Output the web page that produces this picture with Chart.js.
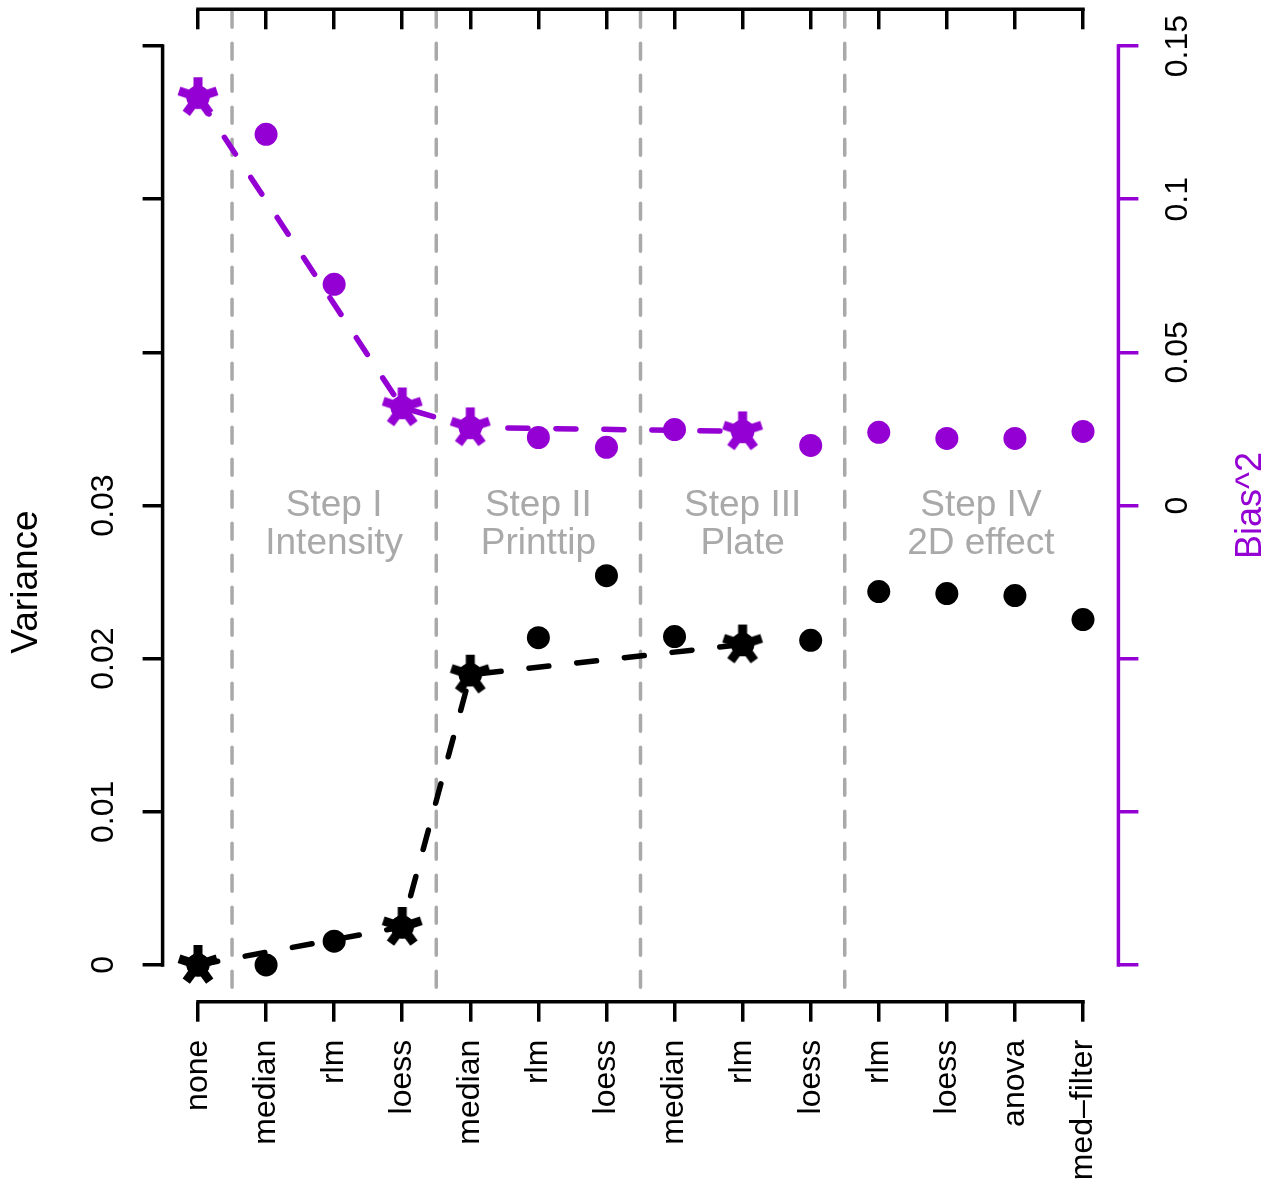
<!DOCTYPE html>
<html lang="en">

<head>
  <meta charset="UTF-8">
  <title>Variance and Bias^2 by normalisation step</title>
  <script src="https://cdn.jsdelivr.net/npm/chart.js"></script>
  <style>
    body {
      margin: 0;
      background: #fff;
    }
  </style>
</head>

<body>
  <canvas id="varBias" width="1279" height="1186"></canvas>

  <script>
    // methods tried at each step, left to right
    const methods = ['none', 'median', 'rlm', 'loess', 'median', 'rlm', 'loess',
      'median', 'rlm', 'loess', 'rlm', 'loess', 'anova', 'med\u2013filter'];

    const variance = [0, 0, 0.00155, 0.00248, 0.01895, 0.02137, 0.02542,
      0.02144, 0.02092, 0.02120, 0.02438, 0.02425, 0.02412, 0.02255];
    const bias2 = [0.1333, 0.1212, 0.0722, 0.0320, 0.0255, 0.0222, 0.0190,
      0.0248, 0.0242, 0.0196, 0.0239, 0.0219, 0.0219, 0.0242];

    // the method chosen at each step (marked with a star, joined by a dashed line)
    const chosen = [0, 3, 4, 8];

    const varTicks = [0, 0.01, 0.02, 0.03, 0.04, 0.05, 0.06];
    const varTickLabels = ['0', '0.01', '0.02', '0.03', '', '', ''];
    const biasTicks = [-0.15, -0.1, -0.05, 0, 0.05, 0.1, 0.15];
    const biasTickLabels = ['', '', '', '0', '0.05', '0.1', '0.15'];

    const stepBreaks = [1.5, 4.5, 7.5, 10.5];
    const stepNames = [['Step I', 'Intensity'], ['Step II', 'Printtip'],
      ['Step III', 'Plate'], ['Step IV', '2D effect']];
    const stepCentres = [3, 6, 9, 12.5];

    const PURPLE = '#9400D3';
    const GREY = '#A9A9A9';
    const FONT = "'Liberation Sans', Arial, sans-serif";

    function starGlyph(color) {
      const c = document.createElement('canvas');
      c.width = 46;
      c.height = 46;
      const g = c.getContext('2d');
      g.fillStyle = color;
      g.strokeStyle = color;
      g.beginPath();
      g.arc(23, 23, 11.5, 0, Math.PI * 2);
      g.fill();
      g.lineWidth = 9;
      for (let k = 0; k < 5; k++) {
        const a = -Math.PI / 2 + k * 2 * Math.PI / 5;
        g.beginPath();
        g.moveTo(23, 23);
        g.lineTo(23 + 20 * Math.cos(a), 23 + 20 * Math.sin(a));
        g.stroke();
      }
      return c;
    }

    const onlyChosen = arr => arr.map((v, i) => chosen.includes(i) ? v : null);
    const xy = arr => arr.map((v, i) => ({ x: i + 1, y: v }));

    const extras = {
      id: 'extras',
      beforeDatasetsDraw(chart) {
        const { ctx, chartArea: a, scales } = chart;
        ctx.save();
        ctx.strokeStyle = GREY;
        ctx.lineWidth = 3.5;
        ctx.lineCap = 'round';
        ctx.setLineDash([16, 16]);
        stepBreaks.forEach(b => {
          const px = scales.x.getPixelForValue(b);
          ctx.beginPath();
          ctx.moveTo(px, a.top + 2);
          ctx.lineTo(px, a.bottom);
          ctx.stroke();
        });
        ctx.setLineDash([]);
        ctx.fillStyle = GREY;
        ctx.font = '37px ' + FONT;
        ctx.textAlign = 'center';
        ctx.textBaseline = 'alphabetic';
        const base = scales.y.getPixelForValue(0.0293);
        stepNames.forEach((lines, i) => {
          const px = scales.x.getPixelForValue(stepCentres[i]);
          lines.forEach((t, j) => ctx.fillText(t, px, base + j * 38));
        });
        ctx.restore();
      },
      afterDraw(chart) {
        const { ctx, chartArea: a, scales } = chart;
        const x = scales.x, y = scales.y, y2 = scales.y2;
        ctx.save();
        ctx.lineWidth = 3.5;
        ctx.lineCap = 'square';
        ctx.strokeStyle = '#000';
        const x0 = x.getPixelForValue(1), x1 = x.getPixelForValue(methods.length);
        [a.top, a.bottom].forEach(py => {
          ctx.beginPath();
          ctx.moveTo(x0, py);
          ctx.lineTo(x1, py);
          ctx.stroke();
        });
        ctx.beginPath();
        ctx.moveTo(a.left, y.getPixelForValue(varTicks[0]));
        ctx.lineTo(a.left, y.getPixelForValue(varTicks[varTicks.length - 1]));
        ctx.stroke();
        ctx.strokeStyle = PURPLE;
        ctx.beginPath();
        ctx.moveTo(a.right, y2.getPixelForValue(biasTicks[0]));
        ctx.lineTo(a.right, y2.getPixelForValue(biasTicks[biasTicks.length - 1]));
        ctx.stroke();

        // axis titles, both reading bottom to top
        ctx.textAlign = 'center';
        ctx.textBaseline = 'middle';
        ctx.font = '37px ' + FONT;
        ctx.fillStyle = '#000';
        ctx.translate(27, 582);
        ctx.rotate(-Math.PI / 2);
        ctx.fillText('Variance', 0, 0);
        ctx.setTransform(1, 0, 0, 1, 0, 0);
        ctx.font = '36px ' + FONT;
        ctx.fillStyle = PURPLE;
        ctx.translate(1251, (a.top + a.bottom) / 2);
        ctx.rotate(-Math.PI / 2);
        ctx.fillText('Bias^2', 0, 0);
        ctx.restore();
      }
    };

    const xTicks = scale => {
      scale.ticks = methods.map((m, i) => ({ value: i + 1 }));
    };
    const noPad = s => {
      s.paddingTop = 0;
      s.paddingBottom = 0;
      s.paddingLeft = 0;
      s.paddingRight = 0;
    };

    new Chart(document.getElementById('varBias'), {
      type: 'scatter',
      data: {
        datasets: [
          {
            label: 'Variance (chosen)',
            type: 'line',
            data: xy(onlyChosen(variance)),
            yAxisID: 'y',
            spanGaps: true,
            borderColor: '#000',
            borderWidth: 5.5,
            borderDash: [20, 28],
            borderCapStyle: 'round',
            pointStyle: starGlyph('#000'),
            pointRadius: 23,
            order: 0
          },
          {
            label: 'Bias^2 (chosen)',
            type: 'line',
            data: xy(onlyChosen(bias2)),
            yAxisID: 'y2',
            spanGaps: true,
            borderColor: PURPLE,
            borderWidth: 5.5,
            borderDash: [20, 28],
            borderCapStyle: 'round',
            pointStyle: starGlyph(PURPLE),
            pointRadius: 23,
            order: 1
          },
          {
            label: 'Variance',
            data: xy(variance),
            yAxisID: 'y',
            backgroundColor: '#000',
            borderWidth: 0,
            pointRadius: 11.5,
            order: 2
          },
          {
            label: 'Bias^2',
            data: xy(bias2),
            yAxisID: 'y2',
            backgroundColor: PURPLE,
            borderWidth: 0,
            pointRadius: 11.5,
            order: 3
          }
        ]
      },
      options: {
        responsive: false,
        animation: false,
        layout: { padding: 0, autoPadding: false },
        plugins: {
          legend: { display: false },
          tooltip: { enabled: false }
        },
        scales: {
          x: {
            type: 'linear',
            position: 'bottom',
            min: 0.48,
            max: 14.52,
            afterBuildTicks: xTicks,
            afterFit: s => { s.height = 184.3; noPad(s); },
            border: { display: false },
            grid: { drawOnChartArea: false, color: '#000', lineWidth: 3.5, tickLength: 20 },
            ticks: {
              autoSkip: false,
              minRotation: 90,
              maxRotation: 90,
              padding: 18,
              color: '#000',
              font: { family: FONT, size: 32 },
              callback: (v, i) => methods[i]
            }
          },
          x2: {
            type: 'linear',
            position: 'top',
            min: 0.48,
            max: 14.52,
            afterBuildTicks: xTicks,
            afterFit: s => { s.height = 9.3; noPad(s); },
            border: { display: false },
            grid: { drawOnChartArea: false, color: '#000', lineWidth: 3.5, tickLength: -20 },
            ticks: { display: false }
          },
          y: {
            type: 'linear',
            position: 'left',
            min: -0.0024,
            max: 0.0624,
            afterBuildTicks: s => { s.ticks = varTicks.map(v => ({ value: v })); },
            afterFit: s => { s.width = 162.6; noPad(s); },
            border: { display: false },
            grid: { drawOnChartArea: false, color: '#000', lineWidth: 3.5, tickLength: 20 },
            ticks: {
              minRotation: 90,
              maxRotation: 90,
              crossAlign: 'center',
              padding: 7,
              color: '#000',
              font: { family: FONT, size: 32 },
              callback: (v, i) => varTickLabels[i]
            }
          },
          y2: {
            type: 'linear',
            position: 'right',
            min: -0.162,
            max: 0.162,
            afterBuildTicks: s => { s.ticks = biasTicks.map(v => ({ value: v })); },
            afterFit: s => { s.width = 160.6; noPad(s); },
            border: { display: false },
            grid: { drawOnChartArea: false, color: PURPLE, lineWidth: 3.5, tickLength: 20 },
            ticks: {
              minRotation: 90,
              maxRotation: 90,
              crossAlign: 'center',
              padding: 9,
              color: '#000',
              font: { family: FONT, size: 32 },
              callback: (v, i) => biasTickLabels[i]
            }
          }
        }
      },
      plugins: [extras]
    });
  </script>
</body>

</html>
